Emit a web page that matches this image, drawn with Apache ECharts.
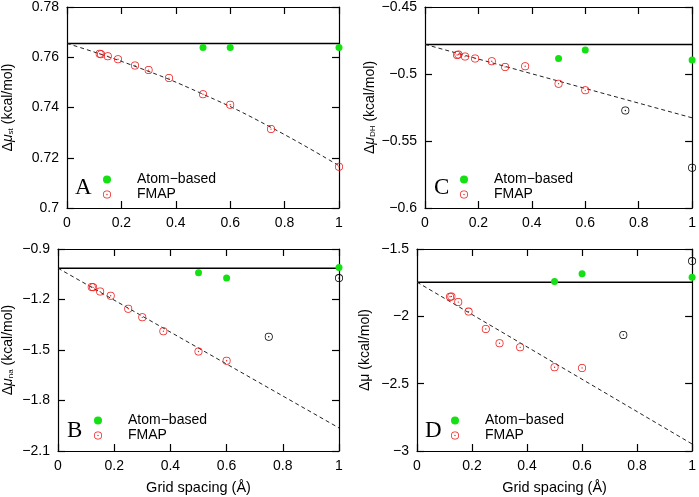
<!DOCTYPE html>
<html>
<head>
<meta charset="utf-8">
<script src="https://cdn.jsdelivr.net/npm/echarts@6/dist/echarts.min.js"></script>
<style>
html,body{margin:0;padding:0;background:#fff;}
#chart{width:699px;height:497px;}
</style>
</head>
<body>
<div id="chart"></div>
<script>
// ---- data ----
const xTicks = [0, 0.2, 0.4, 0.6, 0.8, 1];
const xAtom = [0.5, 0.6, 1.0];
const xFmap = [0.12, 0.125, 0.15, 0.1875, 0.25, 0.3, 0.375, 0.5, 0.6];
const xFmapA = [0.12, 0.125, 0.15, 0.1875, 0.25, 0.3, 0.375, 0.5, 0.6, 0.75, 1.0];
const xExtra = [0.75, 1.0];
const xFitA = [0, 0.25, 0.5, 0.75, 1];
const xFit = [0, 1];
const xRef = [0, 1];

// Panel A: Δμ_st
const atomA = [0.7639, 0.7639, 0.7639];
const fmapA = [0.7614, 0.7612, 0.7604, 0.7592, 0.7567, 0.7549, 0.7517, 0.7453, 0.7411, 0.7314, 0.7164];
const refA = [0.7655, 0.7655];
const fitA = [0.7655, 0.7564, 0.7453, 0.7321, 0.7168];

// Panel C: Δμ_DH
const atomC = [-0.4885, -0.4821, -0.4895];
const fmapC = [-0.4858, -0.4855, -0.4870, -0.4885, -0.4905, -0.4947, -0.4942, -0.5072, -0.5122];
const extraC = [-0.5272, -0.5699];
const refC = [-0.4779, -0.4779];
const fitC = [-0.4779, -0.5327];

// Panel B: Δμ_na
const atomB = [-1.0415, -1.0728, -1.010];
const fmapB = [-1.1256, -1.1276, -1.153, -1.178, -1.255, -1.306, -1.388, -1.509, -1.564];
const extraB = [-1.421, -1.073];
const refB = [-1.014, -1.014];
const fitB = [-1.014, -1.963];

// Panel D: Δμ
const atomD = [-1.741, -1.684, -1.709];
const fmapD = [-1.854, -1.852, -1.894, -1.965, -2.094, -2.2, -2.23, -2.378, -2.383];
const extraD = [-2.138, -1.59];
const refD = [-1.746, -1.746];
const fitD = [-1.746, -2.948];

// ---- helpers ----
const zip = (xs, ys) => xs.map((x, i) => [x, ys[i]]);
const FONT = 'Liberation Sans';
const GREEN = '#14e014';
const RED = '#ee1c1c';
const RING = 'path://M10 0A10 10 0 1 1 10 20A10 10 0 1 1 10 0ZM10 1.9A8.1 8.1 0 1 0 10 18.1A8.1 8.1 0 1 0 10 1.9ZM10 8.3A1.7 1.7 0 1 1 10 11.7A1.7 1.7 0 1 1 10 8.3Z';
const minus = v => String(v).replace('-', '\u2212');

const panels = [
  { grid: {left: 67, top: 6, width: 272, height: 202}, y: [0.70, 0.78, 0.02],
    name: '{n|Δ}{i|μ}{s|st}{n| (kcal/mol)}', nameGap: 52, xName: '',
    atom: atomA, fmapX: xFmapA, fmap: fmapA, extra: null, ref: refA, fitX: xFitA, fit: fitA, smooth: true,
    letter: 'A', lx: 75, ly: 176, legL: 103, legT: 172 },
  { grid: {left: 425, top: 6, width: 271, height: 202}, y: [-0.6, -0.45, 0.05],
    name: '{n|Δ}{i|μ}{s|DH}{n| (kcal/mol)}', nameGap: 48, xName: '',
    atom: atomC, fmapX: xFmap, fmap: fmapC, extra: extraC, ref: refC, fitX: xFit, fit: fitC, smooth: false,
    letter: 'C', lx: 434, ly: 176, legL: 460, legT: 172 },
  { grid: {left: 58, top: 249, width: 281, height: 202}, y: [-2.1, -0.9, 0.3],
    name: '{n|Δ}{i|μ}{s|na}{n| (kcal/mol)}', nameGap: 43, xName: 'Grid spacing (Å)',
    atom: atomB, fmapX: xFmap, fmap: fmapB, extra: extraB, ref: refB, fitX: xFit, fit: fitB, smooth: false,
    letter: 'B', lx: 67, ly: 419, legL: 94, legT: 413 },
  { grid: {left: 417, top: 249, width: 279, height: 202}, y: [-3, -1.5, 0.5],
    name: '{n|Δμ (kcal/mol)}', nameGap: 45, xName: 'Grid spacing (Å)',
    atom: atomD, fmapX: xFmap, fmap: fmapD, extra: extraD, ref: refD, fitX: xFit, fit: fitD, smooth: false,
    letter: 'D', lx: 425, ly: 419, legL: 451, legT: 413 }
];

const grid = [], xAxis = [], yAxis = [], series = [], title = [], legend = [];
const lineStyle = {color: '#000', width: 1.2};

panels.forEach((p, i) => {
  grid.push(Object.assign({containLabel: false}, p.grid));
  const xBase = {type: 'value', gridIndex: i, min: 0, max: 1, interval: 0.2,
    splitLine: {show: false}, axisLine: {show: true, onZero: false, lineStyle},
    axisTick: {show: true, inside: true, length: 7, lineStyle}};
  xAxis.push(Object.assign({}, xBase, {position: 'bottom',
    axisLabel: {color: '#000', fontFamily: FONT, fontSize: 14, margin: 8, formatter: v => String(+v.toFixed(1))},
    name: p.xName, nameLocation: 'middle', nameGap: 29,
    nameTextStyle: {color: '#000', fontFamily: FONT, fontSize: 14.5}}));
  xAxis.push(Object.assign({}, xBase, {position: 'top', axisLabel: {show: false}}));
  const yBase = {type: 'value', gridIndex: i, min: p.y[0], max: p.y[1], interval: p.y[2],
    splitLine: {show: false}, axisLine: {show: true, onZero: false, lineStyle},
    axisTick: {show: true, inside: true, length: 7, lineStyle}};
  yAxis.push(Object.assign({}, yBase, {position: 'left',
    axisLabel: {color: '#000', fontFamily: FONT, fontSize: 14, margin: 8,
      formatter: v => minus(+v.toFixed(3))},
    name: p.name, nameLocation: 'middle', nameGap: p.nameGap,
    nameTextStyle: {color: '#000', fontFamily: FONT, fontSize: 14,
      rich: {n: {fontFamily: FONT, fontSize: 14, color: '#000'},
             i: {fontFamily: FONT, fontSize: 14, fontStyle: 'italic', color: '#000'},
             s: {fontFamily: FONT, fontSize: 8, color: '#000', padding: [5, 0, 0, 0]}}}}));
  yAxis.push(Object.assign({}, yBase, {position: 'right', axisLabel: {show: false}}));

  const ax = {xAxisIndex: 2 * i, yAxisIndex: 2 * i};
  series.push(Object.assign({type: 'line', name: 'ref' + i, data: zip(p.ref.map((_, k) => xRef[k]), p.ref),
    symbol: 'none', lineStyle: {color: '#000', width: 1.5}, silent: true, z: 1}, ax));
  series.push(Object.assign({type: 'line', name: 'fit' + i, data: zip(p.fitX, p.fit), smooth: p.smooth,
    symbol: 'none', lineStyle: {color: '#222', width: 1, type: [4, 3]}, silent: true, z: 1}, ax));
  series.push(Object.assign({type: 'scatter', name: 'Atom-based', data: zip(xAtom, p.atom),
    symbol: 'circle', symbolSize: 7, itemStyle: {color: GREEN, opacity: 1}, z: 3}, ax));
  series.push(Object.assign({type: 'scatter', name: 'FMAP', data: zip(p.fmapX, p.fmap),
    symbol: RING, symbolSize: 8, itemStyle: {color: RED, opacity: 1}, z: 3}, ax));
  if (p.extra) {
    series.push(Object.assign({type: 'scatter', name: 'other' + i, data: zip(xExtra, p.extra),
      symbol: RING, symbolSize: 8, itemStyle: {color: '#000', opacity: 1}, z: 3}, ax));
  }
  title.push({text: p.letter, left: p.lx, top: p.ly, padding: 0,
    textStyle: {fontFamily: 'Liberation Serif', fontSize: 23, fontWeight: 'normal', color: '#000'}});
  legend.push({data: ['Atom-based', 'FMAP'], orient: 'vertical', left: p.legL, top: p.legT,
    padding: 0, itemGap: 0, itemWidth: 8, itemHeight: 8, selectedMode: false,
    formatter: n => n.replace('-', '\u2212'),
    textStyle: {fontFamily: FONT, fontSize: 14, color: '#000', lineHeight: 15, padding: [0, 0, 0, 21]}});
});

const chart = echarts.init(document.getElementById('chart'), null, {renderer: 'canvas'});
chart.setOption({animation: false, backgroundColor: '#fff', grid, xAxis, yAxis, series, title, legend});
</script>
</body>
</html>
